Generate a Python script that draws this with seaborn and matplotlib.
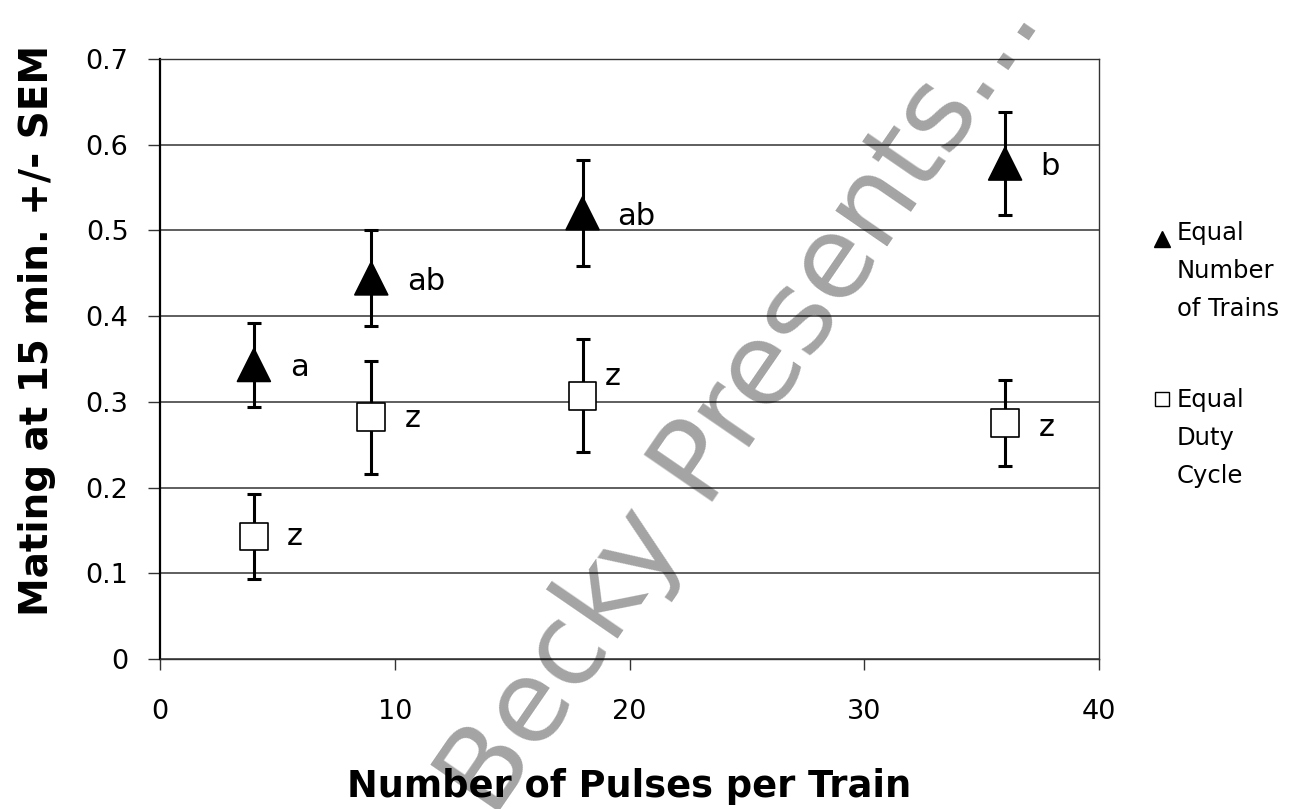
import matplotlib
matplotlib.use("Agg")
import matplotlib.pyplot as plt
import seaborn as sns
import pandas as pd
from matplotlib.lines import Line2D

# ---------------- data ----------------
pulses = [4, 9, 18, 36]
trains_mean = [0.343, 0.444, 0.520, 0.578]
trains_sem = [0.049, 0.056, 0.062, 0.060]
duty_mean = [0.143, 0.282, 0.307, 0.275]
duty_sem = [0.050, 0.066, 0.066, 0.050]
trains_letters = ["a", "ab", "ab", "b"]
duty_letters = ["z", "z", "z", "z"]
series_names = ["Equal\nNumber\nof Trains", "Equal\nDuty\nCycle"]
x_ticks = [0, 10, 20, 30, 40]
x_tick_labels = ["0", "10", "20", "30", "40"]
y_ticks = [0, 0.1, 0.2, 0.3, 0.4, 0.5, 0.6, 0.7]
y_tick_labels = ["0", "0.1", "0.2", "0.3", "0.4", "0.5", "0.6", "0.7"]
x_title = "Number of Pulses per Train"
y_title = "Mating at 15 min. +/- SEM"
watermark = "Becky Presents..."

df = pd.DataFrame({
    "pulses": pulses * 2,
    "mean": trains_mean + duty_mean,
    "sem": trains_sem + duty_sem,
    "series": [series_names[0]] * 4 + [series_names[1]] * 4,
    "letter": trains_letters + duty_letters,
})

# ---------------- style ----------------
sns.set_theme(style="white")
plt.rcParams["font.family"] = ["DejaVu Sans"]

W, H = 1314, 809
fig = plt.figure(figsize=(W / 100, H / 100), dpi=100)
ax = fig.add_axes([160 / W, 1 - 659 / H, 939 / W, 600 / H])

grid_c = "#333333"
# error bars
for name in series_names:
    sub = df[df["series"] == name]
    ax.errorbar(sub["pulses"], sub["mean"], yerr=sub["sem"], fmt="none",
                ecolor="black", elinewidth=2.2, capsize=5, capthick=2.2,
                zorder=3)

sns.scatterplot(data=df, x="pulses", y="mean", hue="series", style="series",
                size="series",
                markers={series_names[0]: "^", series_names[1]: "s"},
                palette={series_names[0]: "black", series_names[1]: "white"},
                sizes={series_names[0]: 560, series_names[1]: 400},
                edgecolor="black", linewidth=1.2, legend=False, ax=ax,
                zorder=4)

# letters next to points (offsets in points: style only)
label_offsets = {
    (series_names[0], 0): (26, -2), (series_names[0], 1): (26, -2),
    (series_names[0], 2): (25, -2), (series_names[0], 3): (25, -2),
    (series_names[1], 0): (24, 0), (series_names[1], 1): (24, -1),
    (series_names[1], 2): (16, 14), (series_names[1], 3): (24, -3),
}
for name in series_names:
    sub = df[df["series"] == name].reset_index(drop=True)
    for i, r in sub.iterrows():
        dx, dy = label_offsets[(name, i)]
        ax.annotate(r["letter"], (r["pulses"], r["mean"]),
                    xytext=(dx, dy), textcoords="offset points",
                    ha="left", va="center", fontsize=22, color="black",
                    zorder=5)

ax.set_xlim(0, 40)
ax.set_ylim(0, 0.7)
ax.set_xticks(x_ticks)
ax.set_xticklabels(x_tick_labels)
ax.set_yticks(y_ticks)
ax.set_yticklabels(y_tick_labels)

ax.yaxis.grid(True, color=grid_c, linewidth=1.1, zorder=1)
ax.xaxis.grid(False)
ax.set_axisbelow(True)

for side in ["top", "right", "bottom"]:
    ax.spines[side].set_visible(True)
    ax.spines[side].set_color(grid_c)
    ax.spines[side].set_linewidth(1.0)
ax.spines["left"].set_color("black")
ax.spines["left"].set_linewidth(1.6)

ax.tick_params(axis="y", which="major", direction="out", length=8.6,
               width=1.0, color=grid_c, pad=14, labelsize=19.5,
               left=True, labelcolor="black")
ax.tick_params(axis="x", which="major", direction="out", length=8,
               width=1.0, color=grid_c, pad=21, labelsize=19.5,
               bottom=True, labelcolor="black")

ax.set_xlabel(x_title, fontsize=26.5, fontweight="bold", color="black")
ax.xaxis.label.set_va("baseline")
ax.xaxis.set_label_coords(0.5, -0.23)
ax.set_ylabel(y_title, fontsize=28, fontweight="bold", color="black")
ax.yaxis.label.set_va("center")
ax.yaxis.set_label_coords(-0.131, 0.548)

# ---------------- legend (manual, right side) ----------------
leg_markers = ["^", "s"]
leg_faces = ["black", "white"]
leg_marker_sizes = [11.5, 10.5]
leg_first_baseline = [240, 407]
leg_marker_y = [239, 399]
line_step = 38
for k, name in enumerate(series_names):
    fig.add_artist(Line2D([1162 / W], [1 - leg_marker_y[k] / H],
                          marker=leg_markers[k], markersize=leg_marker_sizes[k],
                          markerfacecolor=leg_faces[k], markeredgecolor="black",
                          markeredgewidth=1.0, linestyle="none",
                          transform=fig.transFigure))
    for j, line in enumerate(name.split("\n")):
        fig.text(1177 / W, 1 - (leg_first_baseline[k] + j * line_step) / H,
                 line, fontsize=17.5, ha="left", va="baseline", color="black")

# ---------------- watermark ----------------
fig.text(742 / W, 1 - 402 / H, watermark, rotation=55.5, fontsize=82,
         color="black", alpha=0.36, ha="center", va="center",
         rotation_mode="anchor", zorder=10)

fig.savefig("out.png", dpi=100, facecolor="white")
